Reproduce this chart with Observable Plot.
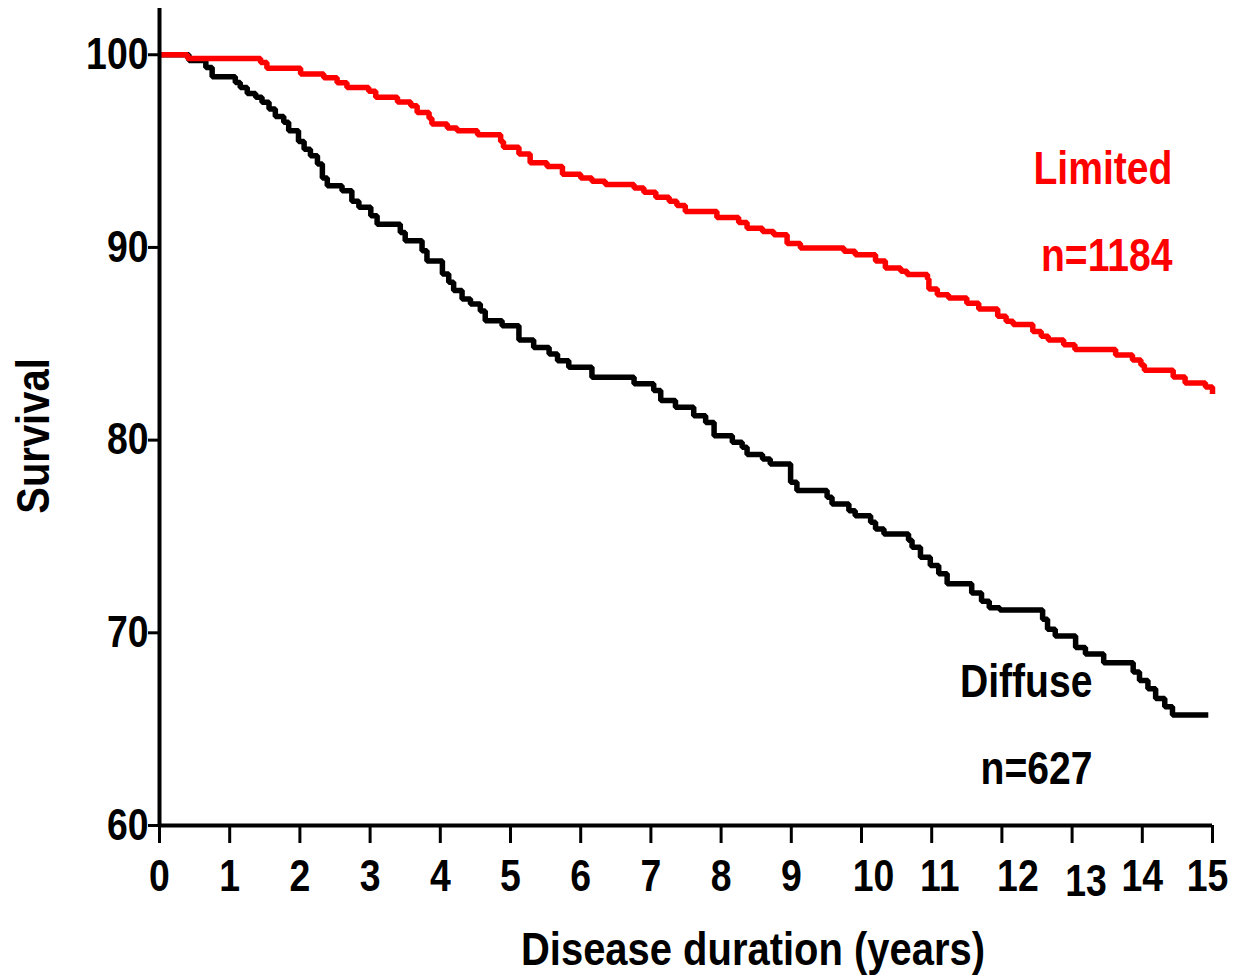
<!DOCTYPE html>
<html><head><meta charset="utf-8">
<script src="https://cdn.jsdelivr.net/npm/d3@7"></script>
<script src="https://cdn.jsdelivr.net/npm/@observablehq/plot@0.6"></script>
<style>body{margin:0;background:#fff} svg{display:block}</style>
</head><body><div id="chart"></div>
<script>
// Kaplan–Meier step points: time (years) where the survival value starts
const limitedTime = [0,0.40,1.44,1.53,2.01,2.34,2.53,2.67,2.98,3.08,3.39,3.58,3.67,3.84,3.88,4.10,4.24,4.53,4.86,4.90,5.12,5.28,5.52,5.74,6.00,6.16,6.35,6.76,6.90,7.07,7.26,7.37,7.49,7.94,8.25,8.37,8.59,8.75,8.94,9.13,9.75,9.91,10.20,10.34,10.56,10.65,10.94,10.96,11.08,11.24,11.50,11.67,11.94,12.06,12.16,12.44,12.56,12.66,12.88,13.04,13.62,13.86,13.98,14.03,14.44,14.61,14.90,15.0];
const limitedSurv = [100,99.8,99.6,99.3,99.0,98.8,98.55,98.3,98.1,97.8,97.55,97.35,97.0,96.7,96.4,96.2,96.05,95.85,95.5,95.2,94.85,94.4,94.2,93.8,93.6,93.43,93.26,93.08,92.86,92.6,92.4,92.17,91.87,91.56,91.3,91.0,90.83,90.66,90.2,89.97,89.8,89.62,89.3,88.93,88.76,88.59,88.36,87.84,87.55,87.37,87.1,86.8,86.43,86.17,86.0,85.64,85.39,85.2,84.95,84.7,84.42,84.16,83.9,83.63,83.28,82.97,82.76,82.4];
const diffuseTime = [0,0.42,0.66,0.75,1.08,1.15,1.25,1.37,1.46,1.56,1.65,1.77,1.84,1.98,2.06,2.15,2.25,2.32,2.39,2.60,2.74,2.84,3.01,3.10,3.43,3.50,3.74,3.81,4.03,4.12,4.19,4.31,4.43,4.57,4.64,4.88,5.12,5.33,5.55,5.67,5.83,6.16,6.76,7.04,7.14,7.35,7.61,7.78,7.90,8.16,8.30,8.37,8.59,8.70,8.99,9.08,9.51,9.58,9.82,9.91,10.13,10.20,10.32,10.67,10.72,10.84,10.98,11.10,11.22,11.57,11.71,11.82,11.97,12.58,12.65,12.76,13.05,13.19,13.45,13.87,13.96,14.08,14.19,14.32,14.43,14.94];
const diffuseSurv = [100,99.7,99.34,98.86,98.56,98.3,97.99,97.8,97.53,97.18,96.8,96.5,96.05,95.5,95.1,94.76,94.33,93.6,93.2,92.94,92.4,92.08,91.65,91.2,90.78,90.35,89.83,89.3,88.62,88.19,87.76,87.32,87.07,86.7,86.2,85.94,85.2,84.81,84.47,84.12,83.78,83.26,82.92,82.57,82.05,81.7,81.27,80.92,80.23,79.89,79.63,79.25,79.02,78.76,77.81,77.38,77.03,76.69,76.34,76.08,75.74,75.39,75.13,74.8,74.44,73.92,73.49,73.06,72.54,72.07,71.64,71.3,71.18,70.7,70.18,69.84,69.24,68.9,68.44,67.96,67.53,67.1,66.59,66.16,65.73,65.73];

const xTicks = [0,1,2,3,4,5,6,7,8,9,10,11,12,13,14,15];
const yTicks = [60,70,80,90,100];
const groupNames = ["Limited","Limited","Diffuse","Diffuse"];
const groupLabels = ["Limited","n=1184","Diffuse","n=627"];
const labelX = [14.43,14.43,13.29,13.29];
const labelY = [93.3,88.8,66.65,62.15];
const xTitle = "Disease duration (years)";
const yTitle = "Survival";
const colors = {Limited: "#ff0000", Diffuse: "#000000"};

// layout: a few tick labels sit slightly off their ticks in the original
const tickLabelShift = {10: [12, 0], 11: [8, 0], 12: [16, 0], 13: [14, 5], 15: [-5, 0]};

const FONT = "'Liberation Sans',Arial,sans-serif";
const NARROW = 0.85; // condense glyphs to mimic a narrow bold face

const limitedRows = limitedTime.map((t, i) => ({t, s: limitedSurv[i]}));
const diffuseRows = diffuseTime.map((t, i) => ({t, s: diffuseSurv[i]}));
const labelRows = groupLabels.map((text, i) => ({text, x: labelX[i], y: labelY[i], g: groupNames[i]}));

const shiftedTickMarks = Object.entries(tickLabelShift).map(([tick, [dx, dy]]) =>
  Plot.text([+tick], {x: d => d, frameAnchor: "bottom", lineAnchor: "top", dx, dy: 34 + dy, text: d => String(d), fontSize: 44, fontWeight: "bold"})
);

const chart = Plot.plot({
  width: 1239, height: 977,
  marginLeft: 159, marginRight: 27, marginTop: 8, marginBottom: 152,
  x: {domain: [0, 15]},
  y: {domain: [60, 102.4]},
  style: {fontFamily: FONT, background: "white", color: "black"},
  marks: [
    Plot.line(diffuseRows, {x: "t", y: "s", curve: "step-after", stroke: colors.Diffuse, strokeWidth: 5.5, strokeLinejoin: "miter", strokeLinecap: "butt"}),
    Plot.line(limitedRows, {x: "t", y: "s", curve: "step-after", stroke: colors.Limited, strokeWidth: 5.5, strokeLinejoin: "miter", strokeLinecap: "butt"}),
    Plot.ruleY([60], {strokeWidth: 4}),
    Plot.ruleX([0], {strokeWidth: 4}),
    Plot.axisY({ticks: yTicks, tickSize: 11, tickPadding: 0, strokeWidth: 3, fontSize: 44, fontWeight: "bold", label: null, tickFormat: d => String(d)}),
    Plot.axisX({ticks: xTicks, tickSize: 18, tickPadding: 16, strokeWidth: 3, fontSize: 44, fontWeight: "bold", label: null, tickFormat: d => (d in tickLabelShift) ? "" : String(d)}),
    ...shiftedTickMarks,
    Plot.text(labelRows, {x: "x", y: "y", text: "text", textAnchor: "end", lineAnchor: "bottom", fill: d => colors[d.g], fontSize: 46, fontWeight: "bold"}),
    Plot.text([xTitle], {frameAnchor: "bottom", lineAnchor: "top", textAnchor: "middle", dx: 67, dy: 106, text: d => d, fontSize: 47, fontWeight: "bold"}),
    Plot.text([yTitle], {frameAnchor: "left", lineAnchor: "top", textAnchor: "middle", rotate: -90, dx: -144, dy: 19, text: d => d, fontSize: 47, fontWeight: "bold"})
  ]
});
document.getElementById("chart").appendChild(chart);
chart.querySelectorAll("text").forEach(t => {
  const w = t.getComputedTextLength();
  if (w > 0) {
    t.setAttribute("textLength", (w * NARROW).toFixed(2));
    t.setAttribute("lengthAdjust", "spacingAndGlyphs");
  }
});
</script>
</body></html>
